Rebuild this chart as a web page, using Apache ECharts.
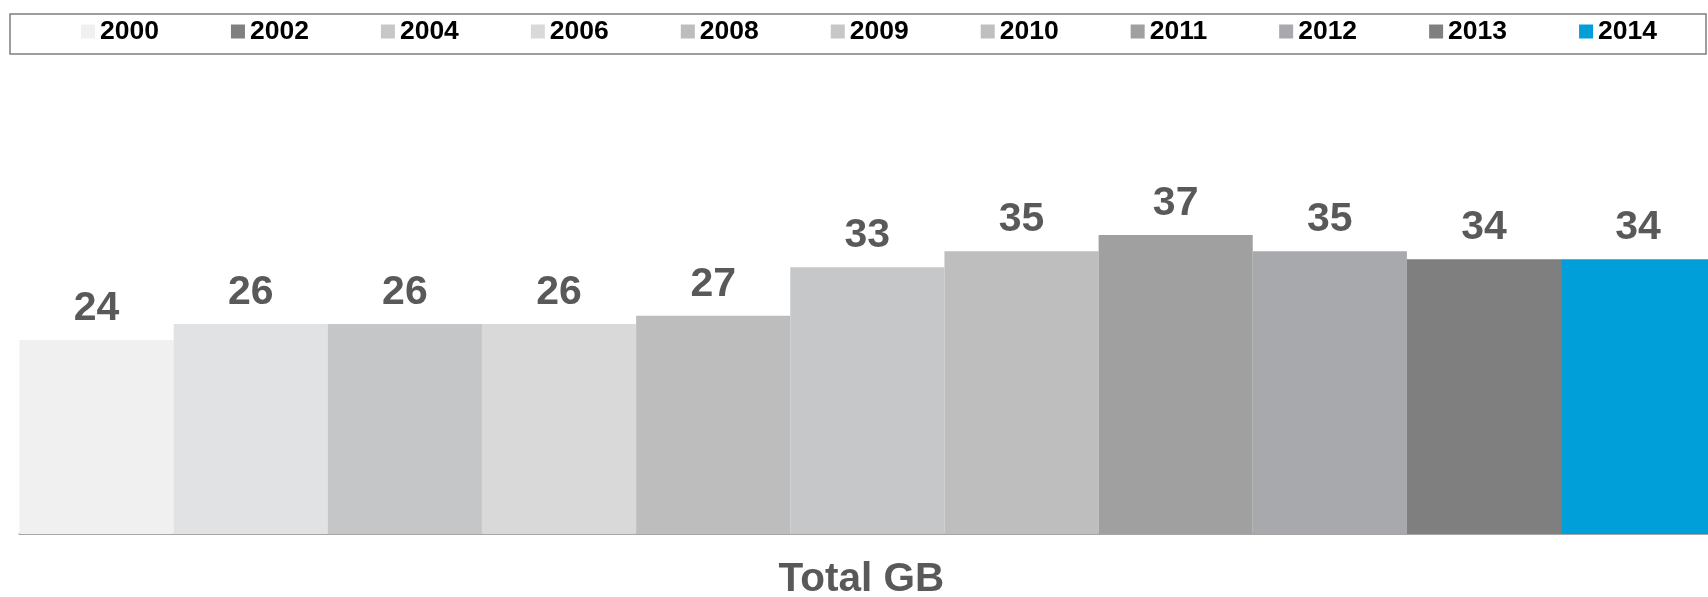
<!DOCTYPE html>
<html>
<head>
<meta charset="utf-8">
<title>Total GB by year</title>
<script src="https://cdn.jsdelivr.net/npm/echarts@6/dist/echarts.min.js"></script>
<style>
  html, body { margin: 0; padding: 0; background: #ffffff; }
  #chart { width: 1708px; height: 597px; }
</style>
</head>
<body>
<div id="chart"></div>
<script>
// Category on the x axis
const categories = ['Total GB'];

// One series per year
const years = ['2000', '2002', '2004', '2006', '2008', '2009', '2010', '2011', '2012', '2013', '2014'];
const totals = [24, 26, 26, 26, 27, 33, 35, 37, 35, 34, 34];

// Bar fills and legend swatch fills (2002 uses a darker swatch in the legend)
const barColors = ['#f0f0f0', '#e1e2e4', '#c5c6c8', '#d9d9d9', '#bdbdbd', '#c6c7c9', '#bebebe', '#a0a0a0', '#a8a9ac', '#7f7f7f', '#009fda'];
const legendColors = ['#f0f0f0', '#808080', '#c6c7c9', '#d9d9d9', '#bdbdbd', '#c6c7c9', '#bfbfbf', '#a0a0a0', '#a8a9ac', '#808080', '#009fda'];

const FONT = "'Liberation Sans', Arial, Helvetica, sans-serif";

const chart = echarts.init(document.getElementById('chart'), null, { renderer: 'canvas' });

const series = years.map((y, i) => ({
  name: y,
  type: 'bar',
  data: [totals[i]],
  barGap: '0%',
  barCategoryGap: '0%',
  itemStyle: { color: barColors[i] },
  label: {
    show: true,
    position: 'top',
    distance: 11,
    color: '#595959',
    fontFamily: FONT,
    fontWeight: 'bold',
    fontSize: 41
  },
  emphasis: { disabled: true }
}));

chart.setOption({
  animation: false,
  backgroundColor: '#ffffff',
  graphic: [{
    type: 'rect',
    shape: { x: 10, y: 14, width: 1696, height: 40 },
    style: { fill: 'none', stroke: '#7f7f7f', lineWidth: 1.5 },
    silent: true
  }],
  legend: {
    left: 81,
    top: 18,
    padding: 0,
    itemGap: 72,
    itemWidth: 14,
    itemHeight: 14,
    icon: 'rect',
    selectedMode: false,
    textStyle: {
      color: '#000000',
      fontFamily: FONT,
      fontWeight: 'bold',
      fontSize: 26.5
    },
    data: years.map((y, i) => ({ name: y, itemStyle: { color: legendColors[i] } }))
  },
  // the plot runs a few pixels past the right edge of the canvas
  grid: {
    left: 19.5,
    top: 130,
    width: 1695.7,
    height: 404,
    containLabel: false,
    outerBoundsMode: 'none'
  },
  xAxis: {
    type: 'category',
    data: categories,
    axisTick: { show: false },
    axisLine: { show: true, lineStyle: { color: '#a6a6a6', width: 2 } },
    axisLabel: {
      margin: 25,
      padding: [0, 12, 0, 0],
      color: '#595959',
      fontFamily: FONT,
      fontWeight: 'bold',
      fontSize: 40.5
    }
  },
  yAxis: {
    type: 'value',
    min: 0,
    max: 50,
    show: false,
    splitLine: { show: false }
  },
  series: series
});
</script>
</body>
</html>
